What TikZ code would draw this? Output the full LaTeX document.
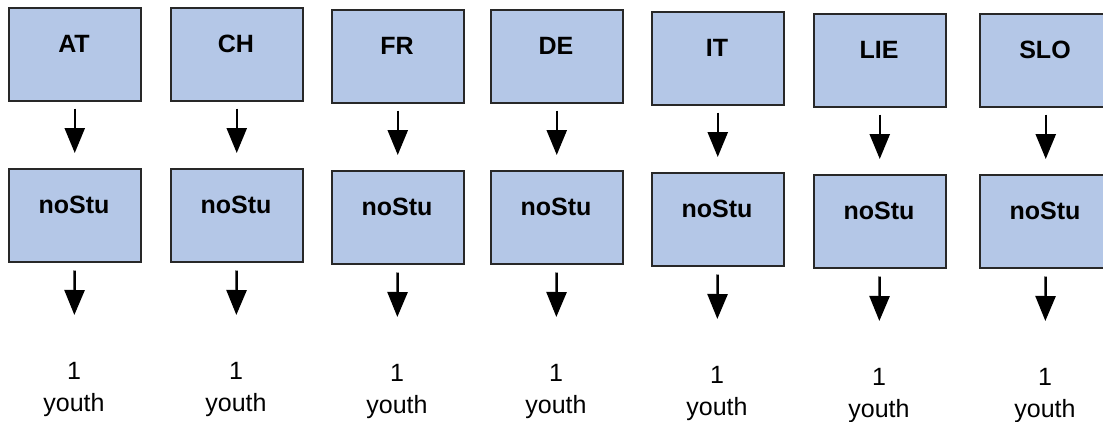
\documentclass[tikz,border=0pt]{standalone}
\usepackage{fontspec}
\setmainfont{Liberation Sans}
\usetikzlibrary{arrows.meta}
\definecolor{boxblue}{RGB}{180,199,231}
\definecolor{boxline}{RGB}{40,40,40}
\tikzset{
    cbox/.style={draw=boxline, line width=1.5pt, fill=boxblue, minimum width=132pt, minimum height=93pt, anchor=north west, inner sep=0pt},
    cname/.style={anchor=base, font=\fontsize{25}{30}\selectfont\bfseries, inner sep=0pt},
    youth/.style={anchor=north, align=center, font=\fontsize{25}{32}\selectfont, inner sep=0pt},
    arr/.style={line width=2.5pt, -{Triangle[length=25pt, width=20pt]}}
}
\begin{document}
\begin{tikzpicture}[x=1pt, y=-1pt]
\useasboundingbox (0,0) rectangle (1103,421);

\foreach \name/\x/\y [count=\i] in {AT/8/7, CH/170/7, FR/331/9, DE/490/9, IT/651/11, LIE/813/13, SLO/979/13}{
    \node[cbox] (box\i) at (\x,\y) {};
    \node[cname] (name\i) at (\x+66,\y+45) {\name};
    \node[cbox] (stu\i) at (\x,\y+161) {};
    \node[cname] (stulbl\i) at (\x+66,\y+206) {noStu};
    \node[youth] (yth\i) at (\x+66,\y+355) {1\\youth};
    \draw[arr, shorten <=7pt, shorten >=15pt] (box\i.south) -- (stu\i.north);
    \draw[arr, shorten <=8pt, shorten >=47pt] (stu\i.south) -- (yth\i.north);
}

\end{tikzpicture}
\end{document}
